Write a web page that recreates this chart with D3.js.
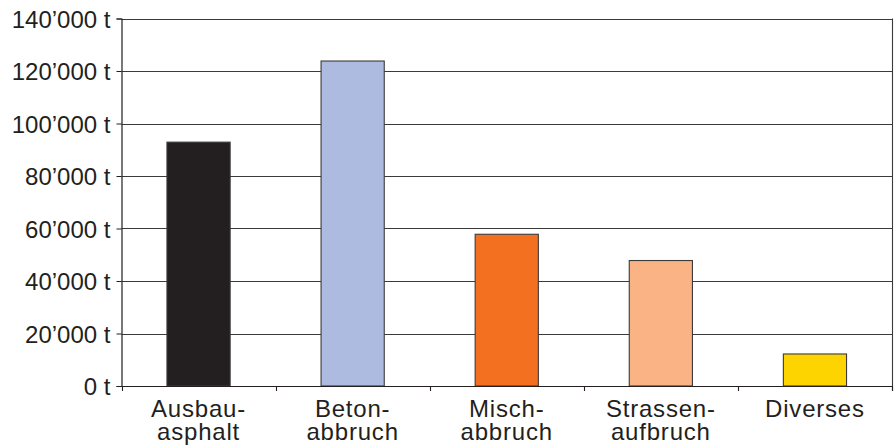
<!DOCTYPE html>
<html>
<head>
<meta charset="utf-8">
<script src="https://cdn.jsdelivr.net/npm/d3@7"></script>
<style>
  html, body { margin: 0; padding: 0; background: #fff; }
  svg text { font-family: "Liberation Sans", Arial, sans-serif; fill: #231f20; }
</style>
</head>
<body>
<svg id="chart" width="896" height="448"></svg>
<script>
// Recycled construction material volumes by category (tonnes)
const categories = ["Ausbau-\nasphalt", "Beton-\nabbruch", "Misch-\nabbruch", "Strassen-\naufbruch", "Diverses"];
const values = [92900, 123800, 57800, 47800, 12200];
const colors = ["#231f20", "#adbbe0", "#f37021", "#f9b384", "#fdd400"];
const yTicks = [0, 20000, 40000, 60000, 80000, 100000, 120000, 140000];

const margin = { top: 18.5, right: 4, bottom: 62, left: 121.5 };
const width = 896, height = 448;
const svg = d3.select("#chart");

const x = d3.scaleBand()
  .domain(categories)
  .range([margin.left, width - margin.right])
  .paddingInner(0.59)
  .paddingOuter(0.295);

const y = d3.scaleLinear()
  .domain([0, 140000])
  .range([height - margin.bottom, margin.top]);

const fmt = v => d3.format(",")(v).replace(/,/g, "\u2019") + " t";

// horizontal gridlines
svg.append("g")
  .selectAll("line")
  .data(yTicks)
  .join("line")
  .attr("x1", margin.left)
  .attr("x2", width - margin.right)
  .attr("y1", d => Math.round(y(d)) + 0.5)
  .attr("y2", d => Math.round(y(d)) + 0.5)
  .attr("stroke", "#3a3a3a")
  .attr("stroke-width", 1.1);

// right frame edge
svg.append("line")
  .attr("x1", width - margin.right + 0.5).attr("x2", width - margin.right + 0.5)
  .attr("y1", y(140000)).attr("y2", y(0) + 5)
  .attr("stroke", "#3a3a3a").attr("stroke-width", 1.1);

// bars
svg.append("g")
  .selectAll("rect")
  .data(values)
  .join("rect")
  .attr("x", (d, i) => x(categories[i]))
  .attr("width", x.bandwidth())
  .attr("y", d => y(d))
  .attr("height", d => y(0) - y(d))
  .attr("fill", (d, i) => colors[i])
  .attr("stroke", "#3a3a3a")
  .attr("stroke-width", 1.1);

// y axis
const yAxis = d3.axisLeft(y)
  .tickValues(yTicks)
  .tickFormat(fmt)
  .tickSize(5)
  .tickPadding(6);

const gy = svg.append("g")
  .attr("transform", `translate(${margin.left},0)`)
  .call(yAxis);
gy.select(".domain").attr("stroke", "#231f20").attr("stroke-width", 1.2);
gy.selectAll(".tick line").attr("stroke", "#231f20");
gy.selectAll(".tick text")
  .attr("font-size", 24)
  .attr("dy", "0.36em")
  .style("font-family", "'Liberation Sans', Arial, sans-serif")
  .attr("fill", "#231f20");

// x axis baseline with ticks at category boundaries
const bounds = d3.range(categories.length + 1).map(i => margin.left + i * (width - margin.right - margin.left) / categories.length);
svg.append("line")
  .attr("x1", margin.left).attr("x2", width - margin.right)
  .attr("y1", Math.round(y(0)) + 0.5).attr("y2", Math.round(y(0)) + 0.5)
  .attr("stroke", "#231f20").attr("stroke-width", 1.2);
svg.append("g")
  .selectAll("line")
  .data(bounds)
  .join("line")
  .attr("x1", d => Math.round(d) + 0.5).attr("x2", d => Math.round(d) + 0.5)
  .attr("y1", y(0)).attr("y2", y(0) + 5)
  .attr("stroke", "#231f20").attr("stroke-width", 1.1);

// category labels (two lines)
const labels = svg.append("g")
  .selectAll("text")
  .data(categories)
  .join("text")
  .attr("x", d => x(d) + x.bandwidth() / 2)
  .attr("y", 416.5)
  .attr("text-anchor", "middle")
  .attr("font-size", 24)
  .attr("letter-spacing", 0.8);
labels.selectAll("tspan")
  .data(d => d.split("\n"))
  .join("tspan")
  .attr("x", function () { return d3.select(this.parentNode).attr("x"); })
  .attr("dy", (d, i) => i === 0 ? 0 : 23)
  .text(d => d);
</script>
</body>
</html>
